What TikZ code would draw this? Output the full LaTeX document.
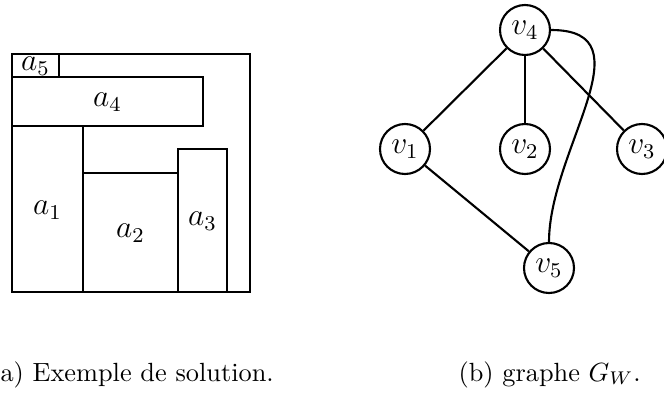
\documentclass[tikz,border=0pt]{standalone}
\begin{document}
\begin{tikzpicture}[x=0.38pt,y=-0.38pt,
  box/.style={draw,line width=0.8pt},
  lbl/.style={font=\large},
  vertex/.style={circle,draw,line width=0.8pt,minimum size=19pt,inner sep=0pt,font=\large},
  edge/.style={line width=0.8pt},
  caption/.style={anchor=base west,inner sep=0pt}]
\useasboundingbox (0,0) rectangle (664,396);

% placement of the five rectangles inside the container
\draw[box] (12,54) rectangle (250,292);
\draw[box] (12,54) rectangle (59,77);
\draw[box] (12,77) rectangle (203,126);
\draw[box] (12,126) rectangle (83,292);
\draw[box] (83,173) rectangle (178,292);
\draw[box] (178,149) rectangle (227,292);
\node[lbl] (a5) at (35.5,66) {$a_5$};
\node[lbl] (a4) at (107.5,102) {$a_4$};
\node[lbl] (a1) at (47.5,210) {$a_1$};
\node[lbl] (a2) at (130.5,233) {$a_2$};
\node[lbl] (a3) at (202.5,221) {$a_3$};

% the graph G_W
\node[vertex] (v4) at (525,30) {$v_4$};
\node[vertex] (v1) at (405,149) {$v_1$};
\node[vertex] (v2) at (525,149) {$v_2$};
\node[vertex] (v3) at (642,149) {$v_3$};
\node[vertex] (v5) at (549,268) {$v_5$};
\draw[edge] (v4) -- (v1);
\draw[edge] (v4) -- (v2);
\draw[edge] (v4) -- (v3);
\draw[edge] (v1) -- (v5);
\draw[edge] (v4.east) .. controls (650,30) and (549,150) .. (v5.north);

% captions
\node[caption] (capa) at (0,381) {a) Exemple de solution.};
\node[caption] (capb) at (458,381) {(b) graphe $G_W$.};
\end{tikzpicture}
\end{document}
